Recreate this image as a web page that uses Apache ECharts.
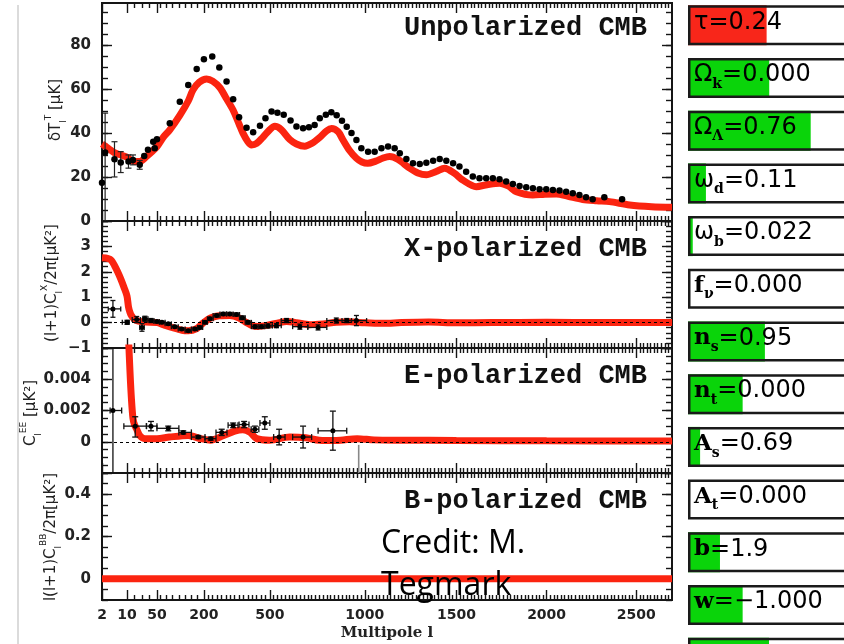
<!DOCTYPE html>
<html>
<head>
<meta charset="utf-8">
<script src="https://cdn.jsdelivr.net/npm/echarts@6/dist/echarts.min.js"></script>
<style>
  html, body { margin: 0; padding: 0; background: #fff; }
  #c { width: 844px; height: 644px; }
</style>
</head>
<body>
<div id="c"></div>
<script>
// ---- Multipole axis: warped scale, log-like at low l and linear at high l ----
const L_KNOTS = [2, 10, 50, 200, 500, 1000, 1500, 2000, 2500, 2700];
const U_KNOTS = [0, 25, 55, 102, 168, 263, 354.7, 445, 534.7, 570.5];
const X_LABELS = [2, 10, 50, 200, 500, 1000, 1500, 2000, 2500];

// ---- Unpolarized (TT) spectrum, delta T in microK ----
const TT_MODEL = [
  [2, 35], [4, 33], [6, 31], [10, 29], [15, 27.6], [20, 27], [27, 27], [35, 29],
  [50, 33.8], [70, 38], [91, 41.4], [123, 48], [150, 54.5], [165, 59.5], [185, 63],
  [212, 64.5], [240, 63.5], [273, 60.5], [300, 56], [332, 50.5], [360, 44], [377, 40],
  [400, 36], [417, 34.5], [440, 35.2], [468, 38], [500, 41.5], [526, 43], [560, 41.5],
  [605, 37], [640, 35], [684, 34], [720, 35.2], [763, 38], [800, 41], [825, 42],
  [860, 40.5], [884, 37], [920, 32], [956, 28.5], [985, 26.8], [1016, 26.2], [1060, 27.2],
  [1100, 28.6], [1136, 29.3], [1180, 28], [1245, 24], [1290, 21.8], [1336, 21],
  [1390, 22.5], [1436, 24], [1490, 21.6], [1535, 18.6], [1610, 15.6], [1670, 16.5],
  [1739, 17.2], [1790, 15.8], [1832, 13.3], [1923, 11.8], [1990, 12.2], [2054, 12.3],
  [2120, 11.2], [2201, 9.8], [2280, 9.2], [2351, 8.8], [2463, 7.3], [2586, 6.5], [2700, 6.2]
];
const TT_POINTS = [
  [2, 17.4], [3, 31.1], [6, 28], [8, 26.6], [12, 27], [18, 27.7], [27, 25.5], [33, 29.5],
  [38, 32.3], [45, 36], [47, 33], [50, 37.1], [91, 44.4], [123, 54.2], [150, 61.8],
  [177, 69], [200, 73.5], [238, 74.7], [270, 69.7], [303, 63.4], [333, 55.3], [360, 47.1],
  [394, 42.4], [424, 40.3], [455, 43.2], [480, 46.7], [509, 49.7], [540, 49.2], [573, 48.2],
  [609, 45.6], [640, 42.9], [675, 42.1], [706, 42.6], [736, 43.6], [763, 46.7], [795, 48.2],
  [824, 49.4], [852, 48], [880, 45.5], [905, 42.8], [930, 40], [956, 36.8], [982, 33],
  [1018, 31.5], [1054, 31.5], [1091, 33], [1127, 33.8], [1163, 33], [1191, 30.8],
  [1227, 28.1], [1263, 26.2], [1300, 25.9], [1336, 26.5], [1373, 27.4], [1409, 28.1],
  [1445, 27.4], [1482, 26.2], [1517, 24.7], [1554, 22.4], [1591, 20.2], [1628, 19.4],
  [1665, 19.4], [1702, 19.4], [1739, 19], [1776, 17.9], [1813, 16.8], [1850, 15.9],
  [1887, 15.3], [1924, 14.9], [1961, 14.4], [1998, 14.4], [2035, 14.1], [2072, 13.8],
  [2109, 13.3], [2146, 12.6], [2183, 11.8], [2220, 10.8], [2257, 9.9], [2322, 10.8], [2421, 9.9]
];
// [l, value, low, high]
const TT_ERRORS = [
  [3, 31.1, 0, 49], [6, 28, 20, 36], [8, 26.6, 22, 31.5], [12, 27, 24, 30],
  [18, 27.7, 25.5, 30], [27, 25.5, 23.5, 27.5]
];

// ---- Cross-polarized (TE) spectrum ----
const TE_MODEL = [
  [2, 2.55], [4, 2.52], [5, 2.45], [6, 2.25], [7, 2.0], [8, 1.72], [9, 1.4], [10, 1.05],
  [12, 0.62], [14, 0.4], [16, 0.27], [20, 0.12], [25, 0.06], [35, 0.02], [50, 0.0],
  [70, -0.08], [100, -0.2], [130, -0.3], [150, -0.32], [175, -0.25], [197, -0.02],
  [230, 0.18], [270, 0.27], [318, 0.28], [360, 0.18], [394, 0.0], [420, -0.12],
  [445, -0.15], [490, -0.1], [540, -0.02], [588, 0.04], [640, 0.0], [710, -0.08],
  [780, -0.05], [850, 0.01], [920, 0.03], [1000, -0.01], [1100, -0.03], [1200, 0.0],
  [1350, 0.02], [1500, -0.01], [1700, 0.0], [2000, 0.01], [2300, 0.0], [2700, 0.0]
];
// [l, value, error, lLow, lHigh]
const TE_POINTS = [
  [5.5, 0.54, 0.33, 4, 8], [10, 0.01, 0.08, 8.5, 13], [23, 0.12, 0.12, 17, 28],
  [30, -0.19, 0.15, 27, 33], [34, 0.15, 0.1, 31, 38], [42, 0.08, 0.08, 38, 46],
  [50, 0.04, 0.05, 46, 58], [66, 0.01, 0.05, 58, 76], [86, -0.05, 0.05, 76, 96],
  [107, -0.16, 0.05, 96, 118], [129, -0.25, 0.05, 118, 140], [150, -0.32, 0.05, 140, 160],
  [171, -0.25, 0.06, 160, 180], [187, -0.19, 0.06, 180, 196], [205, 0.01, 0.06, 196, 216],
  [227, 0.15, 0.06, 216, 242], [258, 0.28, 0.06, 242, 273], [288, 0.34, 0.06, 273, 303],
  [318, 0.34, 0.06, 303, 333], [348, 0.32, 0.06, 333, 362], [375, 0.19, 0.07, 362, 388],
  [401, 0.01, 0.07, 388, 416], [432, -0.16, 0.07, 416, 447], [462, -0.16, 0.07, 447, 477],
  [492, -0.13, 0.08, 477, 513], [535, -0.12, 0.08, 513, 560], [588, 0.08, 0.08, 560, 620],
  [658, -0.16, 0.1, 620, 700], [754, -0.19, 0.1, 700, 800], [850, 0.08, 0.1, 800, 900],
  [905, 0.08, 0.08, 880, 930], [956, 0.08, 0.2, 910, 1010]
];

// ---- E-polarized (EE) spectrum, C_l in microK^2 ----
const EE_MODEL = [
  [2, 0.03], [4, 0.025], [6, 0.02], [8, 0.015], [10, 0.01], [12, 0.0068], [14, 0.0045],
  [16, 0.0027], [18, 0.0015], [20, 0.0011], [23, 0.0008], [27, 0.0004], [34, 0.0002],
  [50, 0.0002], [90, 0.0003], [150, 0.0004], [190, 0.0002], [230, 0.0001], [290, 0.0004],
  [340, 0.00068], [377, 0.00077], [410, 0.0006], [440, 0.0002], [500, 0.0001],
  [605, 0.0003], [690, 0.00025], [760, 0.0001], [850, 0.00008], [960, 0.0002],
  [1050, 0.00012], [1200, 0.0001], [1500, 0.00008], [2000, 0.00006], [2700, 0.00005]
];
// [l, value, low, high, lLow, lHigh]
const EE_POINTS = [
  [5.5, 0.002, -0.003, 0.008, 4.6, 8.3], [21, 0.001, 0.0003, 0.0016, 9, 36],
  [42, 0.001, 0.0007, 0.0013, 36, 50], [86, 0.00086, 0.0007, 0.001, 50, 120],
  [134, 0.0006, 0.0005, 0.0007, 120, 160], [182, 0.0003, 0.0002, 0.0004, 160, 205],
  [231, 0.0002, 0.0001, 0.0003, 205, 255], [281, 0.0006, 0.0004, 0.0008, 255, 305],
  [333, 0.00106, 0.0009, 0.0012, 310, 355], [383, 0.0011, 0.0009, 0.0013, 360, 405],
  [432, 0.0008, 0.0006, 0.001, 415, 450], [477, 0.0012, 0.0008, 0.0016, 455, 500],
  [549, 0.0003, -0.0002, 0.0008, 520, 580], [675, 0.0003, -0.0004, 0.001, 620, 720],
  [832, 0.0007, -0.00054, 0.00196, 754, 905]
];
// upper-limit style bin drawn in grey
const EE_LIMITS = [[968, -0.0002, -0.003, -0.0002, 968, 968]];

// ---- B-polarized (BB) spectrum ----
const BB_MODEL = [[2, 0], [2700, 0]];

// ---- Parameter sliders ----
const PARAM_SYMBOL = ['τ', 'Ω', 'Ω', 'ω', 'ω', 'f', 'n', 'n', 'A', 'A', 'b', 'w', ''];
const PARAM_SUB    = ['', 'k', 'Λ', 'd', 'b', 'ν', 's', 't', 's', 't', '', '', ''];
const PARAM_VALUE  = ['0.24', '0.000', '0.76', '0.11', '0.022', '0.000', '0.95', '0.000',
                      '0.69', '0.000', '1.9', '−1.000', ''];
const SLIDER_POS   = [0.364, 0.376, 0.568, 0.083, 0.022, 0, 0.356, 0.253, 0.056, 0, 0.148, 0.253, 0.375];

// ---------------------------------------------------------------------------
const RED = '#fb2410';
const GREEN = '#0ad40a';
const AXIS_COLOR = '#151515';

function warp(l) {
  const n = L_KNOTS.length;
  let i = 0;
  if (l <= L_KNOTS[0]) i = 0;
  else if (l >= L_KNOTS[n - 1]) i = n - 2;
  else { while (l > L_KNOTS[i + 1]) i++; }
  const t = (l - L_KNOTS[i]) / (L_KNOTS[i + 1] - L_KNOTS[i]);
  return U_KNOTS[i] + t * (U_KNOTS[i + 1] - U_KNOTS[i]);
}
const X_MAX_U = warp(2700);
const X_MAJOR_U = X_LABELS.map(warp);
const X_MINOR_L = [20, 30, 40];
for (let v = 60; v < 2700; v += 20) if (X_LABELS.indexOf(v) < 0) X_MINOR_L.push(v);
const X_MINOR_U = X_MINOR_L.map(warp);

function xLabel(u) {
  let best = 0;
  X_MAJOR_U.forEach((m, i) => { if (Math.abs(m - u) < Math.abs(X_MAJOR_U[best] - u)) best = i; });
  return String(X_LABELS[best]);
}

const GRIDS = [
  { top: 3, height: 218 },
  { top: 221, height: 127 },
  { top: 348, height: 125 },
  { top: 473, height: 127 }
];
const Y_SPECS = [
  { min: 0, max: 99, ticks: [0, 20, 40, 60, 80], labels: [0, 20, 40, 60, 80], step: 5 },
  { min: -1, max: 4, ticks: [-1, 0, 1, 2, 3, 4], labels: [-1, 0, 1, 2, 3], step: 0.2 },
  { min: -0.002, max: 0.006, ticks: [-0.002, 0, 0.002, 0.004, 0.006], labels: [0, 0.002, 0.004], step: 0.0005 },
  { min: -0.1, max: 0.5, ticks: [0, 0.2, 0.4], labels: [0, 0.2, 0.4], step: 0.05 }
];

const lineStyleAxis = { color: AXIS_COLOR, width: 2 };
const tickStyle = { color: AXIS_COLOR, width: 1.4 };

const grids = [], xAxes = [], yAxes = [];
GRIDS.forEach((g, gi) => {
  grids.push({ left: 102, right: 172, top: g.top, height: g.height, outerBoundsMode: 'none', containLabel: false });
  const xb = {
    type: 'value', gridIndex: gi, min: 0, max: X_MAX_U,
    splitLine: { show: false },
    axisLine: { show: true, onZero: false, lineStyle: lineStyleAxis }
  };
  ['bottom', 'top'].forEach(pos => {
    xAxes.push(Object.assign({}, xb, {
      position: pos,
      axisTick: { show: true, inside: true, length: 10, customValues: X_MAJOR_U, lineStyle: tickStyle },
      axisLabel: {
        show: gi === 3 && pos === 'bottom', customValues: X_MAJOR_U, formatter: xLabel,
        fontFamily: 'DejaVu Sans', fontWeight: 'bold', fontSize: 14, color: '#222', margin: 8
      }
    }));
    xAxes.push(Object.assign({}, xb, {
      position: pos,
      axisTick: { show: true, inside: true, length: 5, customValues: X_MINOR_U, lineStyle: tickStyle },
      axisLabel: { show: false }
    }));
  });
  // xAxes order per grid: bottom-major, bottom-minor, top-major, top-minor

  const s = Y_SPECS[gi];
  const minors = [];
  const nSteps = Math.round((s.max - s.min) / s.step);
  for (let k = 0; k <= nSteps; k++) minors.push(+(s.min + k * s.step).toFixed(6));
  const yb = {
    type: 'value', gridIndex: gi, min: s.min, max: s.max,
    splitLine: { show: false },
    axisLine: { show: true, onZero: false, lineStyle: lineStyleAxis }
  };
  ['left', 'right'].forEach(pos => {
    yAxes.push(Object.assign({}, yb, {
      position: pos,
      axisTick: { show: true, inside: true, length: 10, customValues: s.ticks, lineStyle: tickStyle },
      axisLabel: {
        show: pos === 'left', customValues: s.labels,
        formatter: v => String(v).replace('-', '−'),
        fontFamily: 'DejaVu Sans', fontWeight: 'bold', fontSize: 15, color: '#222', margin: 11
      }
    }));
    yAxes.push(Object.assign({}, yb, {
      position: pos,
      axisTick: { show: true, inside: true, length: 6, customValues: minors, lineStyle: tickStyle },
      axisLabel: { show: false }
    }));
  });
});

// sidebar with parameter sliders (frames run past the right edge of the page)
grids.push({ left: 688, width: 216, top: -1, height: 685, outerBoundsMode: 'none', containLabel: false });
xAxes.push({ type: 'value', gridIndex: 4, min: 0, max: 1, show: false });
yAxes.push({ type: 'category', gridIndex: 4, inverse: true, show: false,
  data: PARAM_SYMBOL.map((p, i) => p + PARAM_SUB[i] + i) });

const xi = g => g * 4, yi = g => g * 4;
const warpPts = arr => arr.map(p => [warp(p[0]), p[1]]);

function modelLine(g, arr) {
  return {
    type: 'line', xAxisIndex: xi(g), yAxisIndex: yi(g), data: warpPts(arr),
    showSymbol: false, smooth: 0.3, clip: true, silent: true, z: 3,
    lineStyle: { color: RED, width: 7 }, itemStyle: { color: RED }
  };
}
function dots(g, arr, size) {
  return {
    type: 'scatter', xAxisIndex: xi(g), yAxisIndex: yi(g), data: warpPts(arr),
    symbol: 'circle', symbolSize: size, silent: true, z: 5,
    itemStyle: { color: '#000', opacity: 1 }
  };
}
// rows: [l, value, low, high, lLow, lHigh]
function errorBars(g, rows, color, width, cap) {
  return {
    type: 'custom', xAxisIndex: xi(g), yAxisIndex: yi(g), clip: true, silent: true, z: 4,
    itemStyle: { color: color },
    data: rows.map(r => [warp(r[0]), r[1], r[2], r[3],
                          warp(r[4] !== undefined ? r[4] : r[0]), warp(r[5] !== undefined ? r[5] : r[0])]),
    encode: { x: 0, y: 1 },
    renderItem: function (params, api) {
      const x = api.value(0), y = api.value(1);
      const lo = api.value(2), hi = api.value(3), xl = api.value(4), xh = api.value(5);
      const st = { stroke: color, lineWidth: width };
      const ch = [];
      const seg = (a, b) => ch.push({ type: 'line', shape: { x1: a[0], y1: a[1], x2: b[0], y2: b[1] }, style: st });
      if (hi !== lo) {
        const p1 = api.coord([x, lo]), p2 = api.coord([x, hi]);
        seg(p1, p2);
        seg([p1[0] - cap, p1[1]], [p1[0] + cap, p1[1]]);
        seg([p2[0] - cap, p2[1]], [p2[0] + cap, p2[1]]);
      }
      if (xh !== xl) {
        const q1 = api.coord([xl, y]), q2 = api.coord([xh, y]);
        seg(q1, q2);
        seg([q1[0], q1[1] - cap], [q1[0], q1[1] + cap]);
        seg([q2[0], q2[1] - cap], [q2[0], q2[1] + cap]);
      }
      return { type: 'group', children: ch };
    }
  };
}
const zeroLine = {
  silent: true, symbol: 'none', label: { show: false },
  lineStyle: { color: '#000', type: [3, 3], width: 1 },
  data: [{ yAxis: 0 }]
};

const series = [];
// Unpolarized
series.push(modelLine(0, TT_MODEL));
series.push(errorBars(0, TT_ERRORS.map(r => [r[0], r[1], r[2], r[3]]), '#222', 1.2, 3));
series.push(dots(0, TT_POINTS, 6.5));
// X-polarized
series.push({ type: 'line', xAxisIndex: xi(1), yAxisIndex: yi(1), data: [], silent: true, z: 2, markLine: zeroLine });
series.push(modelLine(1, TE_MODEL));
series.push(errorBars(1, TE_POINTS.map(r => [r[0], r[1], r[1] - r[2], r[1] + r[2], r[3], r[4]]), '#111', 1.3, 2.5));
series.push(dots(1, TE_POINTS, 5));
// E-polarized
series.push({ type: 'line', xAxisIndex: xi(2), yAxisIndex: yi(2), data: [], silent: true, z: 2, markLine: zeroLine });
series.push(modelLine(2, EE_MODEL));
series.push(errorBars(2, EE_LIMITS, '#888', 1.6, 0));
series.push(errorBars(2, EE_POINTS, '#111', 1.3, 3));
series.push(dots(2, EE_POINTS, 5));
// B-polarized
series.push(modelLine(3, BB_MODEL));

// slider fills
series.push({
  type: 'bar', xAxisIndex: 16, yAxisIndex: 16, barWidth: 40, barGap: '-100%', silent: true,
  data: SLIDER_POS.map((v, i) => ({ value: v, itemStyle: { color: i === 0 ? '#f8261a' : GREEN } }))
});
// slider frames with labels
series.push({
  type: 'bar', xAxisIndex: 16, yAxisIndex: 16, barWidth: 40, barGap: '-100%', silent: true,
  data: SLIDER_POS.map(() => 1),
  itemStyle: { color: 'rgba(0,0,0,0)', borderColor: '#1a1a1a', borderWidth: 2.5 },
  label: {
    show: true, position: 'insideLeft', distance: 6, offset: [0, -3],
    formatter: p => {
      const i = p.dataIndex;
      if (!PARAM_VALUE[i]) return '';
      const greek = 'τΩω'.indexOf(PARAM_SYMBOL[i]) >= 0;
      let s = '{' + (greek ? 'g' : 's') + '|' + PARAM_SYMBOL[i] + '}';
      if (PARAM_SUB[i]) s += '{sub|' + PARAM_SUB[i] + '}';
      s += '{v|=' + PARAM_VALUE[i] + '}';
      return s;
    },
    rich: {
      g: { fontFamily: 'DejaVu Sans', fontSize: 24, color: '#000', lineHeight: 32 },
      s: { fontFamily: 'DejaVu Serif', fontWeight: 'bold', fontSize: 23, color: '#000', lineHeight: 32 },
      sub: { fontFamily: 'DejaVu Serif', fontWeight: 'bold', fontSize: 14, color: '#000', lineHeight: 14, verticalAlign: 'bottom' },
      v: { fontFamily: 'DejaVu Sans', fontSize: 24, color: '#000', lineHeight: 32 }
    }
  }
});

// text overlays
const AX_RICH = {
  m: { fontFamily: 'DejaVu Sans', fontSize: 15, fill: '#222', lineHeight: 24 },
  sb: { fontFamily: 'DejaVu Sans', fontSize: 9, fill: '#222', lineHeight: 10, verticalAlign: 'bottom' },
  sp: { fontFamily: 'DejaVu Sans', fontSize: 9, fill: '#222', lineHeight: 10, verticalAlign: 'top' }
};
function axisName(x, y, text) {
  return {
    type: 'text', x: x, y: y, rotation: Math.PI / 2, silent: true, z: 10,
    style: { text: text, rich: AX_RICH, fill: '#222', align: 'center', verticalAlign: 'middle' }
  };
}
function panelTitle(y, text) {
  return {
    type: 'text', x: 647, y: y, silent: true, z: 10,
    style: { text: text, font: 'bold 27px "Liberation Mono"', fill: '#111', align: 'right', verticalAlign: 'middle' }
  };
}

const graphic = [
  { type: 'line', silent: true, shape: { x1: 18, y1: 5, x2: 18, y2: 644 }, style: { stroke: '#cfcfcf', lineWidth: 1.5 } },
  panelTitle(28, 'Unpolarized CMB'),
  panelTitle(249, 'X-polarized CMB'),
  panelTitle(376, 'E-polarized CMB'),
  panelTitle(501, 'B-polarized CMB'),
  axisName(56, 110, '{m|δT}{sb|l}{sp|T}{m| [μK]}'),
  axisName(52, 283, '{m|(l+1)C}{sb|l}{sp|X}{m|/2π[μK²]}'),
  axisName(31, 413, '{m|C}{sb|l}{sp|EE}{m| [μK²]}'),
  axisName(51, 537, '{m|l(l+1)C}{sb|l}{sp|BB}{m|/2π[μK²]}'),
  { type: 'text', x: 387, y: 633, silent: true,
    style: { text: 'Multipole l', font: 'bold 15px "DejaVu Serif"', fill: '#222', align: 'center', verticalAlign: 'middle' } },
  { type: 'text', x: 381, y: 544, silent: true, z: 20,
    style: { text: 'Credit: M.', font: '32px "Open Sans"', fill: '#000', align: 'left', verticalAlign: 'middle' } },
  { type: 'text', x: 381, y: 586, silent: true, z: 20,
    style: { text: 'Tegmark', font: '32px "Open Sans"', fill: '#000', align: 'left', verticalAlign: 'middle' } }
];

const chart = echarts.init(document.getElementById('c'), null, { renderer: 'canvas' });
chart.setOption({
  animation: false,
  backgroundColor: '#fff',
  grid: grids,
  xAxis: xAxes,
  yAxis: yAxes,
  series: series,
  graphic: graphic
});
</script>
</body>
</html>
